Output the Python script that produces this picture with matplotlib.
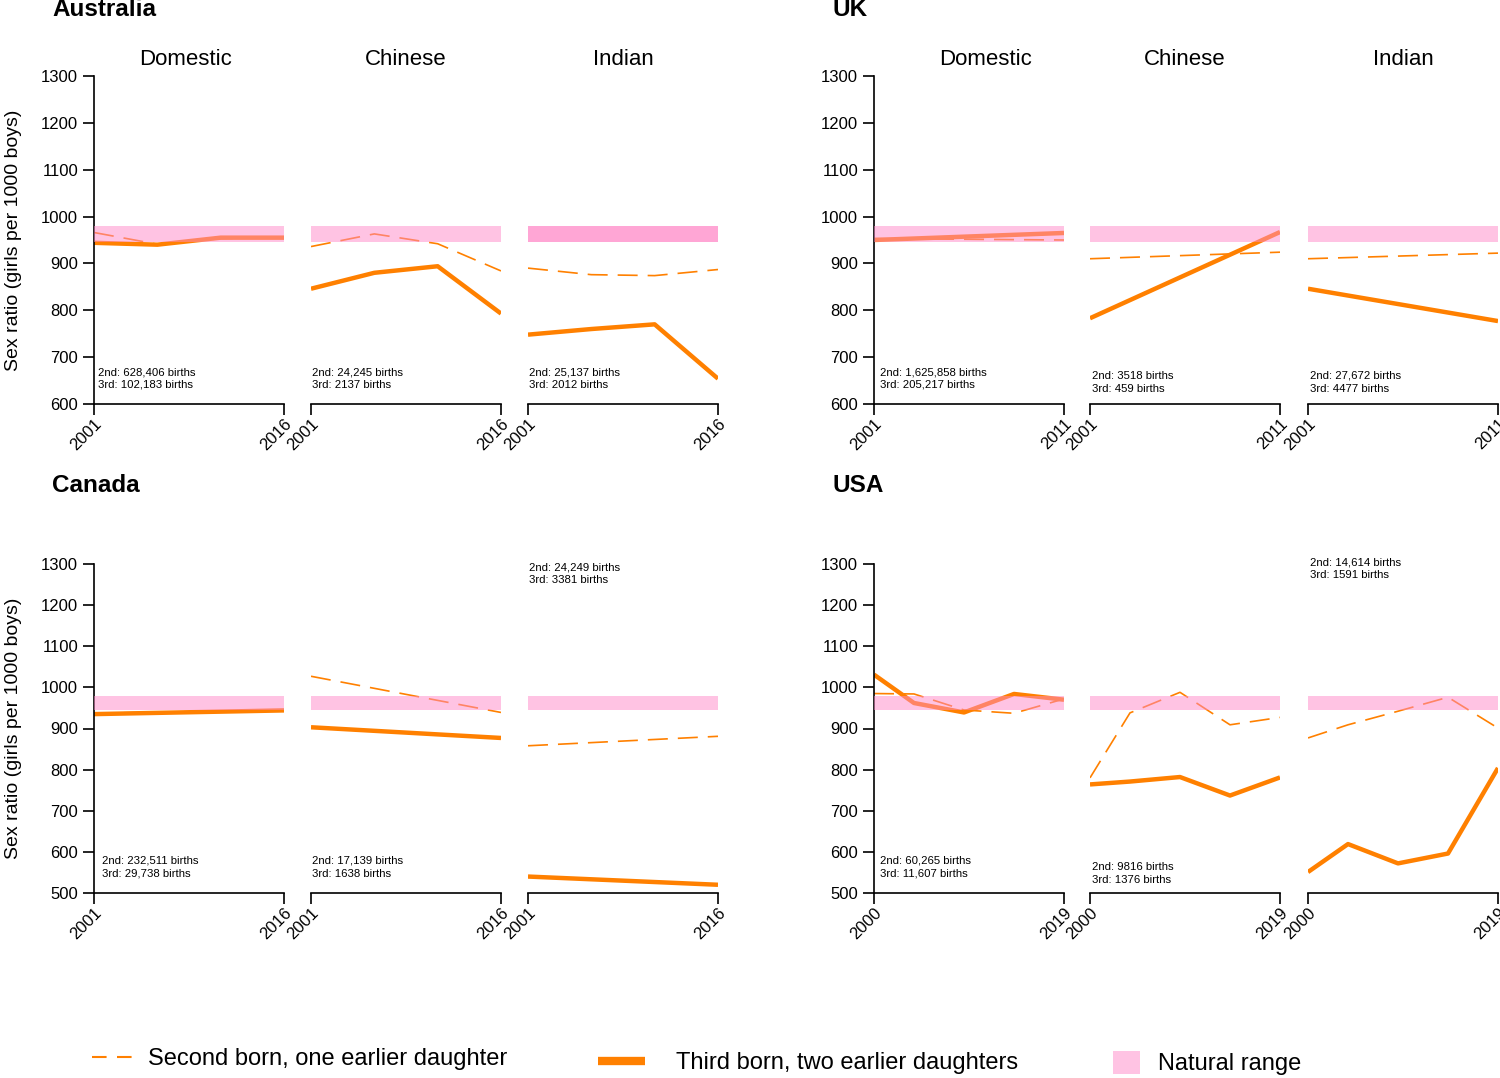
import matplotlib.pyplot as plt
from matplotlib.lines import Line2D
from matplotlib.patches import Patch

plt.rcParams['font.family'] = ['Liberation Sans', 'DejaVu Sans']

origins = ['Domestic', 'Chinese', 'Indian']
natural_range = (946, 979)

# Australia
aus_years = [2001, 2006, 2011, 2016]
aus_second = [[966, 941, 953, 956], [936, 963, 942, 884], [890, 876, 874, 887]]
aus_third = [[944, 940, 955, 955], [846, 880, 894, 793], [748, 760, 770, 654]]
aus_notes = [('628,406', '102,183'), ('24,245', '2137'), ('25,137', '2012')]

# UK
uk_years = [2001, 2011]
uk_second = [[953, 950], [910, 924], [910, 922]]
uk_third = [[950, 965], [783, 967], [846, 777]]
uk_notes = [('1,625,858', '205,217'), ('3518', '459'), ('27,672', '4477')]

# Canada
can_years = [2001, 2016]
can_second = [[937, 945], [1027, 939], [858, 881]]
can_third = [[935, 944], [903, 877], [540, 520]]
can_notes = [('232,511', '29,738'), ('17,139', '1638'), ('24,249', '3381')]

# USA
usa_years = [2000, 2004, 2009, 2014, 2019]
usa_second = [[985, 984, 945, 937, 972], [780, 938, 988, 909, 927], [877, 909, 942, 976, 901]]
usa_third = [[1031, 962, 939, 984, 970], [764, 771, 782, 737, 781], [551, 619, 572, 596, 804]]
usa_notes = [('60,265', '11,607'), ('9816', '1376'), ('14,614', '1591')]

orange = '#ff8000'
pink = '#ff88c8'

fig = plt.figure(figsize=(15, 10.78), dpi=100)
W, H = 1500, 1078


def fx(px):
    return px / W


def fy(py):
    return 1 - py / H


blocks = [
    ('Australia', aus_years, aus_second, aus_third, aus_notes, (600, 1300), 0, [94, 311, 528],
     [(0.02, 0.078), (0.005, 0.078), (0.005, 0.078)], [0.5, 0.5, 0.75], [0.48, 0.5, 0.5]),
    ('UK', uk_years, uk_second, uk_third, uk_notes, (600, 1300), 0, [874, 1090, 1308],
     [(0.03, 0.078), (0.01, 0.066), (0.01, 0.066)], [0.5, 0.5, 0.5], [0.585, 0.5, 0.5]),
    ('Canada', can_years, can_second, can_third, can_notes, (500, 1300), 1, [94, 311, 528],
     [(0.042, 0.078), (0.005, 0.078), (0.005, 0.971)], [0.5, 0.5, 0.5], None),
    ('USA', usa_years, usa_second, usa_third, usa_notes, (500, 1300), 1, [874, 1090, 1308],
     [(0.03, 0.078), (0.01, 0.059), (0.01, 0.986)], [0.5, 0.5, 0.5], None),
]

rows = [(76, 404), (564, 893)]
title_y = [10, 486]

for name, years, second, third, notes, ylim, r, lefts, note_pos, band_alpha, title_x in blocks:
    top, bottom = rows[r]
    fig.text(fx(lefts[0] - 42), fy(title_y[r]), name, fontsize=17.5, fontweight='bold',
             ha='left', va='center')
    for j in range(3):
        ax = fig.add_axes([fx(lefts[j]), fy(bottom), 190 / W, (bottom - top) / H])
        ax.plot(years, second[j], color=orange, lw=1.2, ls=(0, (12, 6)), zorder=2)
        ax.plot(years, third[j], color=orange, lw=3.2, solid_capstyle='butt', zorder=2)
        ax.axhspan(*natural_range, color=pink, alpha=band_alpha[j], lw=0, zorder=3)
        ax.set_xlim(years[0], years[-1])
        ax.set_ylim(*ylim)
        ax.set_xticks([years[0], years[-1]])
        ax.set_xticklabels([str(years[0]), str(years[-1])], rotation=45, ha='right',
                           va='top', rotation_mode='anchor')
        ax.tick_params(direction='out', length=8, width=1.2, labelsize=12)
        ax.tick_params(axis='x', pad=1)
        for s in ['top', 'right']:
            ax.spines[s].set_visible(False)
        ax.spines['bottom'].set_linewidth(1.2)
        ax.spines['left'].set_linewidth(1.2)
        if j == 0:
            ax.set_yticks(range(ylim[0], ylim[1] + 1, 100))
            if lefts[0] < 500:
                ax.set_ylabel('Sex ratio (girls per 1000 boys)', fontsize=14)
                ax.yaxis.set_label_coords(-0.38, 0.5)
        else:
            ax.spines['left'].set_visible(False)
            ax.tick_params(left=False, labelleft=False)
        if title_x is not None:
            ax.set_title(origins[j], fontsize=16, pad=8, x=title_x[j])
        ax.text(note_pos[j][0], note_pos[j][1],
                f'2nd: {notes[j][0]} births\n3rd: {notes[j][1]} births',
                transform=ax.transAxes, fontsize=8.2, ha='left', va='center',
                linespacing=1.35)

# legend along the bottom
fig.legend(handles=[Line2D([], [], color=orange, lw=1.5, ls=(0, (7, 5)))],
           labels=['Second born, one earlier daughter'], loc='center left',
           bbox_to_anchor=(fx(92), fy(1059)), frameon=False, fontsize=17,
           handlelength=1.9, handletextpad=0.47, borderpad=0, borderaxespad=0)
fig.legend(handles=[Line2D([], [], color=orange, lw=6, solid_capstyle='butt')],
           labels=['Third born, two earlier daughters'], loc='center left',
           bbox_to_anchor=(fx(598), fy(1063)), frameon=False, fontsize=17,
           handlelength=2.0, handletextpad=1.3, borderpad=0, borderaxespad=0)
fig.legend(handles=[Patch(facecolor=pink, alpha=0.5, lw=0)],
           labels=['Natural range'], loc='center left',
           bbox_to_anchor=(fx(1113), fy(1063)), frameon=False, fontsize=17,
           handlelength=1.15, handleheight=1.15, handletextpad=0.76,
           borderpad=0, borderaxespad=0)

fig.savefig('out.png', dpi=100)
